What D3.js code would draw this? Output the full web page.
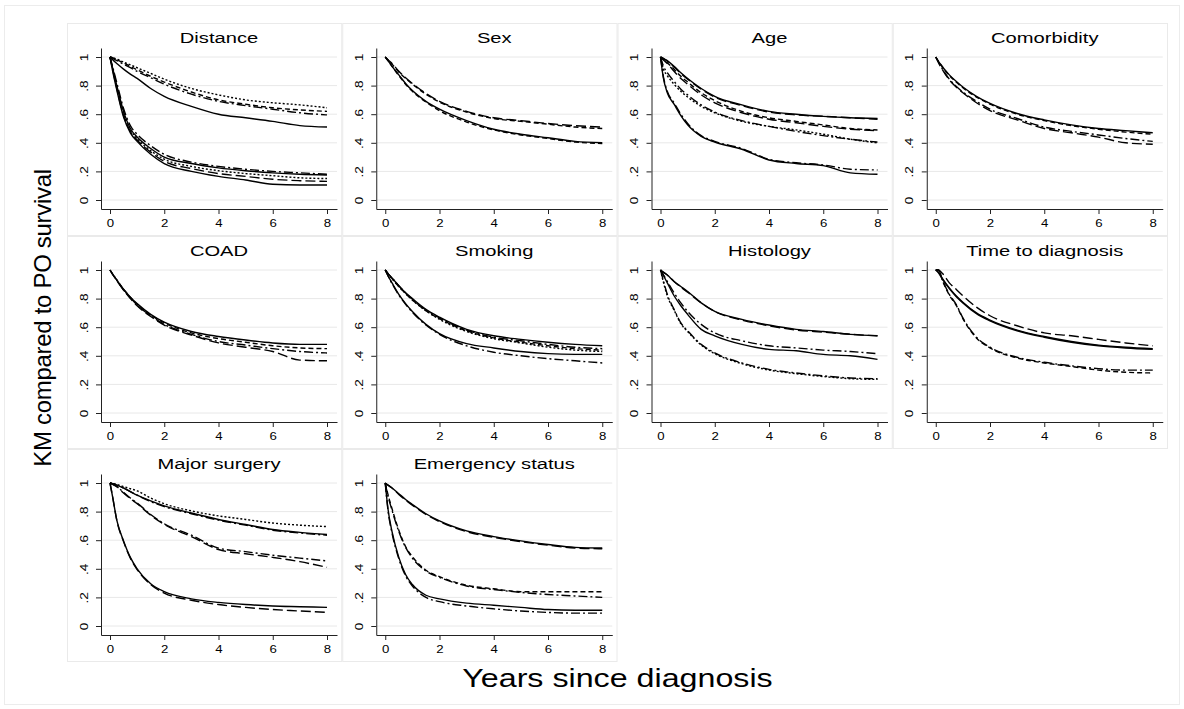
<!DOCTYPE html>
<html>
<head>
<meta charset="utf-8">
<script src="https://cdn.jsdelivr.net/npm/d3@7"></script>
<style>
  html, body { margin: 0; padding: 0; background: #fff; }
  svg { display: block; }
  text { font-family: "Liberation Sans", Arial, Helvetica, sans-serif; fill: #000; }
</style>
</head>
<body>
<svg id="chart" width="1184" height="709"></svg>
<script>
// ---------------- DATA ----------------
const times = [0, 0.1, 0.25, 0.5, 0.75, 1, 1.5, 2, 3, 4, 5, 6, 7, 8];
const panelTitles = ["Distance", "Sex", "Age", "Comorbidity", "COAD", "Smoking",
  "Histology", "Time to diagnosis", "Major surgery", "Emergency status"];
const yTickValues = [0, 0.2, 0.4, 0.6, 0.8, 1];
const yTickLabels = ["0", ".2", ".4", ".6", ".8", "1"];
const xTickValues = [0, 2, 4, 6, 8];
const xTitle = "Years since diagnosis";
const yTitle = "KM compared to PO survival";

const distanceValues = [
  [1, .995, .985, .965, .945, .925, .885, .845, .78, .735, .70, .68, .665, .645],
  [1, .995, .98, .96, .935, .91, .865, .825, .755, .70, .67, .645, .63, .62],
  [1, .99, .975, .95, .925, .90, .855, .81, .74, .69, .66, .635, .61, .595],
  [1, .98, .955, .915, .88, .85, .78, .725, .655, .60, .575, .55, .52, .51],
  [1, .93, .82, .64, .52, .46, .38, .32, .265, .235, .215, .20, .19, .18],
  [1, .92, .80, .62, .50, .44, .36, .30, .255, .225, .205, .19, .18, .175],
  [1, .92, .79, .60, .49, .43, .345, .285, .235, .205, .185, .17, .155, .15],
  [1, .91, .78, .59, .48, .42, .335, .27, .22, .185, .165, .145, .135, .13],
  [1, .90, .77, .58, .47, .41, .32, .255, .20, .165, .14, .11, .105, .105]
];
const sexValues = [
  [1, .98, .955, .90, .855, .815, .745, .69, .62, .575, .555, .535, .52, .51],
  [1, .98, .95, .895, .85, .81, .74, .685, .615, .57, .55, .53, .51, .50],
  [1, .975, .935, .875, .815, .765, .69, .635, .555, .495, .46, .435, .41, .40],
  [1, .975, .935, .87, .81, .76, .685, .625, .545, .49, .455, .43, .405, .395]
];
const ageValues = [
  [1, .99, .975, .935, .89, .85, .78, .725, .665, .62, .60, .585, .575, .57],
  [1, .99, .97, .93, .885, .845, .775, .72, .66, .615, .595, .585, .575, .565],
  [1, .985, .96, .915, .865, .825, .75, .695, .62, .575, .55, .525, .50, .49],
  [1, .98, .955, .90, .85, .81, .735, .68, .61, .565, .54, .515, .495, .485],
  [1, .92, .87, .81, .76, .72, .655, .61, .55, .515, .49, .46, .425, .40],
  [1, .94, .89, .83, .775, .735, .665, .615, .555, .515, .48, .45, .425, .405],
  [1, .87, .76, .68, .60, .535, .45, .41, .36, .285, .26, .245, .215, .21],
  [1, .86, .75, .67, .59, .525, .445, .405, .355, .28, .255, .24, .19, .18]
];
const comorbidityValues = [
  [1, .97, .93, .875, .83, .79, .725, .675, .605, .56, .525, .50, .485, .47],
  [1, .97, .93, .87, .825, .785, .72, .67, .60, .555, .52, .495, .475, .46],
  [1, .965, .915, .845, .795, .755, .69, .635, .57, .51, .48, .455, .43, .41],
  [1, .96, .91, .84, .79, .75, .68, .625, .56, .50, .47, .44, .40, .39]
];
const coadValues = [
  [1, .97, .93, .865, .81, .765, .69, .635, .57, .535, .51, .49, .48, .48],
  [1, .97, .93, .865, .81, .76, .685, .63, .56, .52, .495, .47, .455, .45],
  [1, .97, .93, .86, .805, .755, .68, .62, .55, .50, .475, .45, .43, .42],
  [1, .97, .925, .86, .80, .75, .675, .615, .545, .49, .46, .43, .37, .365]
];
const smokingValues = [
  [1, .975, .945, .89, .84, .80, .725, .67, .585, .54, .515, .495, .48, .47],
  [1, .975, .945, .89, .84, .795, .72, .665, .58, .53, .505, .48, .46, .45],
  [1, .975, .94, .885, .835, .79, .715, .66, .575, .525, .495, .47, .45, .44],
  [1, .975, .94, .885, .835, .79, .715, .655, .57, .52, .49, .46, .44, .43],
  [1, .96, .91, .83, .765, .71, .62, .555, .485, .455, .43, .415, .41, .41],
  [1, .96, .905, .825, .76, .705, .615, .55, .47, .425, .40, .38, .365, .35]
];
const histologyValues = [
  [1, .985, .965, .92, .885, .85, .77, .71, .655, .615, .585, .57, .55, .54],
  [1, .985, .965, .92, .88, .845, .77, .71, .65, .61, .58, .565, .55, .54],
  [1, .97, .92, .84, .77, .71, .62, .56, .505, .47, .455, .44, .43, .415],
  [1, .965, .91, .82, .75, .69, .585, .54, .48, .445, .435, .41, .40, .375],
  [1, .93, .83, .725, .63, .575, .48, .42, .35, .305, .28, .26, .245, .24],
  [1, .92, .82, .72, .625, .57, .475, .415, .345, .30, .275, .255, .24, .235]
];
const timeToDiagnosisValues = [
  [1, 1, .975, .91, .865, .82, .74, .68, .61, .56, .54, .515, .49, .47],
  [1, .985, .94, .875, .82, .775, .70, .65, .58, .535, .50, .475, .46, .45],
  [1, .98, .935, .87, .815, .77, .695, .645, .575, .53, .495, .47, .455, .445],
  [1, 1, .93, .83, .76, .665, .53, .46, .39, .355, .33, .31, .30, .30],
  [1, 1, .925, .825, .755, .66, .525, .455, .385, .35, .325, .30, .285, .28]
];
const majorSurgeryValues = [
  [1, .998, .99, .975, .96, .945, .895, .855, .805, .77, .745, .72, .705, .695],
  [1, .995, .985, .965, .94, .915, .875, .84, .79, .745, .71, .675, .655, .64],
  [1, .995, .985, .965, .94, .915, .87, .835, .785, .74, .705, .67, .65, .635],
  [1, .99, .975, .935, .895, .86, .78, .715, .635, .545, .52, .495, .475, .455],
  [1, .99, .975, .93, .89, .855, .775, .71, .625, .535, .505, .48, .45, .41],
  [1, .90, .74, .595, .48, .40, .295, .24, .19, .165, .15, .14, .135, .13],
  [1, .90, .74, .59, .475, .395, .29, .23, .18, .15, .13, .115, .105, .095]
];
const emergencyValues = [
  [1, .985, .965, .925, .885, .85, .785, .735, .665, .625, .595, .57, .55, .545],
  [1, .985, .965, .92, .88, .845, .78, .73, .66, .62, .59, .565, .545, .54],
  [1, .92, .82, .67, .555, .485, .39, .345, .285, .26, .24, .24, .24, .24],
  [1, .91, .81, .66, .55, .475, .385, .34, .28, .255, .235, .22, .21, .20],
  [1, .82, .66, .48, .36, .29, .215, .19, .16, .145, .13, .115, .11, .11],
  [1, .81, .65, .47, .35, .28, .20, .17, .14, .12, .105, .095, .09, .09]
];

// line pattern names per panel (kept separate from the values)
const distancePatterns = ["dot", "dash", "dashdot", "solid", "dashdot", "solid", "dot", "longdash", "solid"];
const sexPatterns = ["longdash", "dash", "solid", "dash"];
const agePatterns = ["solid", "longdash", "dash", "longdash", "dot", "dashdot", "dashdot", "solid"];
const comorbidityPatterns = ["solid", "dash", "dashdot", "longdash"];
const coadPatterns = ["solid", "dash", "dashdot", "longdash"];
const smokingPatterns = ["solid", "dashdot", "dash", "dot", "solid", "dashdot"];
const histologyPatterns = ["solid", "longdash", "dashdot", "solid", "dashdot", "dot"];
const timeToDiagnosisPatterns = ["longdash", "solid", "solid", "dashdot", "dash"];
const majorSurgeryPatterns = ["dot", "solid", "dashdot", "dashdot", "longdash", "solid", "longdash"];
const emergencyPatterns = ["solid", "longdash", "dash", "dashdot", "solid", "dashdot"];

const panelValues = [distanceValues, sexValues, ageValues, comorbidityValues, coadValues,
  smokingValues, histologyValues, timeToDiagnosisValues, majorSurgeryValues, emergencyValues];
const panelPatterns = [distancePatterns, sexPatterns, agePatterns, comorbidityPatterns, coadPatterns,
  smokingPatterns, histologyPatterns, timeToDiagnosisPatterns, majorSurgeryPatterns, emergencyPatterns];

// ---------------- DRAWING ----------------
const dashMap = { solid: null, dash: "5,3", dot: "2,2", longdash: "10,4", dashdot: "9,3,2,3" };
const svg = d3.select("#chart");
const W = 1184, H = 709;

svg.append("rect").attr("x", 0).attr("y", 0).attr("width", W).attr("height", H).attr("fill", "#fff");
svg.append("rect").attr("x", 4.5).attr("y", 5.5).attr("width", W - 9).attr("height", H - 10)
  .attr("fill", "none").attr("stroke", "#ececec");

const gridLeft = 67, gridTop = 23, pw = 275.25, ph = 213;

panelTitles.forEach((title, i) => {
  const col = i % 4, row = Math.floor(i / 4);
  const L = gridLeft + col * pw, T = gridTop + row * ph;
  const g = svg.append("g");

  g.append("rect").attr("x", L + 0.5).attr("y", T + 0.5).attr("width", pw - 1).attr("height", ph - 1)
    .attr("fill", "#fff").attr("stroke", "#eaeaea");

  const pxPerYear = 217 / 8;
  const x = d3.scaleLinear()
    .domain([-9 / pxPerYear, 8 + 10 / pxPerYear])
    .range([L + 34, L + 270]);
  const y = d3.scaleLinear()
    .domain([-9 / 143, 1 + 9 / 143])
    .range([T + 186, T + 25]);

  // grid
  g.selectAll(".grid").data(yTickValues).enter().append("line")
    .attr("x1", L + 34).attr("x2", L + 270)
    .attr("y1", d => y(d)).attr("y2", d => y(d))
    .attr("stroke", "#e8e8e8").attr("stroke-width", 1);

  // curves
  const line = d3.line()
    .x((d, k) => x(times[k]))
    .y(d => y(d))
    .curve(d3.curveMonotoneX);
  panelValues[i].forEach((vals, j) => {
    const pat = dashMap[panelPatterns[i][j]];
    g.append("path").attr("d", line(vals))
      .attr("fill", "none").attr("stroke", "#000").attr("stroke-width", 1.4)
      .attr("stroke-dasharray", pat);
  });

  // y axis
  const yAxis = g.append("g").attr("transform", `translate(${L + 34},0)`)
    .call(d3.axisLeft(y).tickValues(yTickValues).tickSize(5).tickSizeOuter(0)
      .tickFormat((d, k) => yTickLabels[k]));
  yAxis.select(".domain").attr("stroke", "#222");
  yAxis.selectAll(".tick line").attr("stroke", "#222");
  yAxis.selectAll(".tick text").each(function () {
    d3.select(this)
      .attr("x", 0).attr("y", 0).attr("dy", 0)
      .attr("font-size", 10.5)
      .style("text-anchor", "middle")
      .attr("transform", "translate(-13.5,0) rotate(-90) scale(1.3,1)");
  });

  // x axis
  const xAxis = g.append("g").attr("transform", `translate(0,${T + 186})`)
    .call(d3.axisBottom(x).tickValues(xTickValues).tickSize(5).tickSizeOuter(0)
      .tickFormat(d3.format("d")));
  xAxis.select(".domain").attr("stroke", "#222");
  xAxis.selectAll(".tick line").attr("stroke", "#222");
  xAxis.selectAll(".tick text")
    .attr("y", 0).attr("dy", 0)
    .attr("font-size", 11)
    .attr("transform", "translate(0,18) scale(1.2,1)");

  // panel title
  g.append("text")
    .attr("transform", `translate(${L + 152},${T + 20}) scale(1.3,1)`)
    .attr("text-anchor", "middle").attr("font-size", 15.5)
    .text(title);
});

// axis titles
svg.append("text")
  .attr("transform", `translate(617.5,687) scale(1.24,1)`)
  .attr("text-anchor", "middle").attr("font-size", 26)
  .text(xTitle);

svg.append("text")
  .attr("transform", `translate(51,318) rotate(-90)`)
  .attr("text-anchor", "middle").attr("font-size", 24)
  .attr("letter-spacing", "-0.3")
  .text(yTitle);
</script>
</body>
</html>
